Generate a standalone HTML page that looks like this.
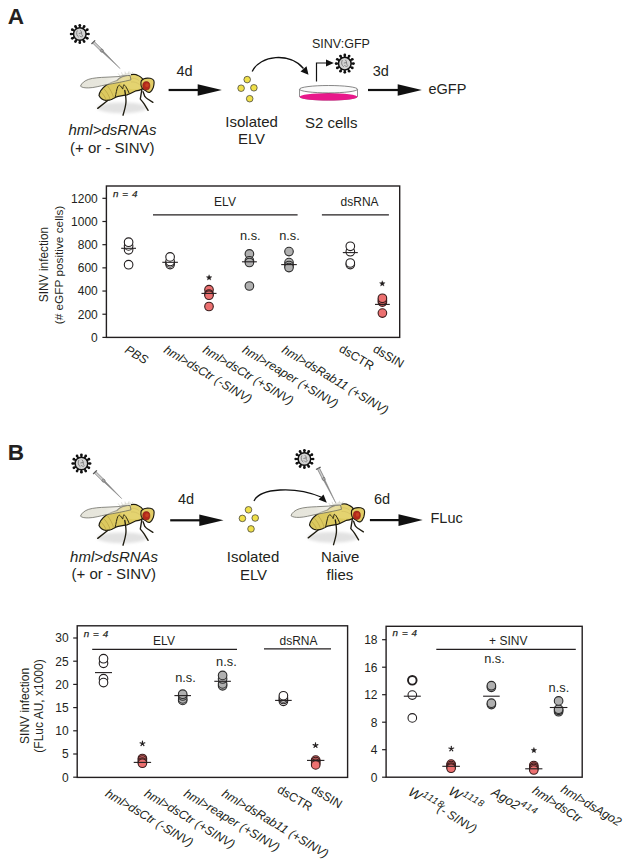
<!DOCTYPE html>
<html><head><meta charset="utf-8">
<style>
html,body{margin:0;padding:0;background:#fff;}
body{width:629px;height:866px;overflow:hidden;}
svg{display:block;font-family:"Liberation Sans",sans-serif;}
text{fill:#231f20;}
</style></head>
<body>
<svg width="629" height="866" viewBox="0 0 629 866">
<defs><linearGradient id="wingg" gradientUnits="userSpaceOnUse" x1="80" y1="0" x2="131" y2="0"><stop offset="0" stop-color="#e3e2d7" stop-opacity="0.92"/><stop offset="0.5" stop-color="#e3e2d7" stop-opacity="0.84"/><stop offset="0.78" stop-color="#ebe9dc" stop-opacity="0.55"/><stop offset="1" stop-color="#ebe9dc" stop-opacity="0.35"/></linearGradient><filter id="blur" x="-20%" y="-50%" width="140%" height="200%"><feGaussianBlur stdDeviation="1.5"/></filter></defs>
<rect width="629" height="866" fill="#fff"/>
<text x="7.7" y="24.3" font-size="22.6" text-anchor="start" font-weight="bold" >A</text>
<g transform="translate(79.8,34.0) scale(1.0)"><line x1="5.50" y1="0.00" x2="8.70" y2="0.00" stroke="#111" stroke-width="1.9"/><circle cx="8.70" cy="0.00" r="1.35" fill="#111"/><line x1="4.76" y1="2.75" x2="7.53" y2="4.35" stroke="#111" stroke-width="1.9"/><circle cx="7.53" cy="4.35" r="1.35" fill="#111"/><line x1="2.75" y1="4.76" x2="4.35" y2="7.53" stroke="#111" stroke-width="1.9"/><circle cx="4.35" cy="7.53" r="1.35" fill="#111"/><line x1="0.00" y1="5.50" x2="0.00" y2="8.70" stroke="#111" stroke-width="1.9"/><circle cx="0.00" cy="8.70" r="1.35" fill="#111"/><line x1="-2.75" y1="4.76" x2="-4.35" y2="7.53" stroke="#111" stroke-width="1.9"/><circle cx="-4.35" cy="7.53" r="1.35" fill="#111"/><line x1="-4.76" y1="2.75" x2="-7.53" y2="4.35" stroke="#111" stroke-width="1.9"/><circle cx="-7.53" cy="4.35" r="1.35" fill="#111"/><line x1="-5.50" y1="0.00" x2="-8.70" y2="0.00" stroke="#111" stroke-width="1.9"/><circle cx="-8.70" cy="0.00" r="1.35" fill="#111"/><line x1="-4.76" y1="-2.75" x2="-7.53" y2="-4.35" stroke="#111" stroke-width="1.9"/><circle cx="-7.53" cy="-4.35" r="1.35" fill="#111"/><line x1="-2.75" y1="-4.76" x2="-4.35" y2="-7.53" stroke="#111" stroke-width="1.9"/><circle cx="-4.35" cy="-7.53" r="1.35" fill="#111"/><line x1="-0.00" y1="-5.50" x2="-0.00" y2="-8.70" stroke="#111" stroke-width="1.9"/><circle cx="-0.00" cy="-8.70" r="1.35" fill="#111"/><line x1="2.75" y1="-4.76" x2="4.35" y2="-7.53" stroke="#111" stroke-width="1.9"/><circle cx="4.35" cy="-7.53" r="1.35" fill="#111"/><line x1="4.76" y1="-2.75" x2="7.53" y2="-4.35" stroke="#111" stroke-width="1.9"/><circle cx="7.53" cy="-4.35" r="1.35" fill="#111"/><circle r="6.3" fill="#d4d4d4" stroke="#111" stroke-width="1.5"/><path d="M-2.5,-3.5 C-3.8,-1 -3.2,2 -1,3.2 M0.5,-3.8 C2.8,-2 0.8,0.5 3,2 M-1,-0.5 L2.2,-1.2 M-0.5,1.5 C0.5,3 2,3 2.8,2.5" fill="none" stroke="#7a7a7a" stroke-width="0.9"/></g>
<g transform="translate(93.3,42.2) rotate(44.57)"><line x1="0" y1="-2.6" x2="0" y2="2.6" stroke="#555" stroke-width="1.3"/><rect x="0.5" y="-1.1" width="11" height="2.2" fill="#cfcfcf" stroke="#666" stroke-width="0.6"/><circle cx="12" cy="0" r="1.5" fill="#aaa" stroke="#666" stroke-width="0.6"/><path d="M13,-0.8 L37.62,0 L13,0.8 Z" fill="#888" stroke="#777" stroke-width="0.4"/></g>
<g transform="translate(0,0) scale(1.0)"><ellipse cx="122" cy="107.8" rx="25" ry="5.4" fill="#e2e2e2" filter="url(#blur)"/><path d="M107.7,100.5 L97.7,108.4" stroke="#1f1c10" stroke-width="1.35" fill="none" stroke-linecap="round"/><path d="M99,95.5 C99.5,92 102.5,88 106,85.3 C109.5,83 113.5,81.5 117,80.5 C120,77 124.5,75.5 129.1,75.4 C132,74.3 135.5,74.2 138,75.5 C141,76.8 143.2,79 144,81.5 C144.8,85 143.6,88 141.6,89.4 C139,90.6 137,90.8 135.5,91 C133,92.3 130,94 127,94.8 C123,95.5 119.5,96 117.2,96.6 C115.5,97.3 114,98.2 112,99.2 C110,100.1 108,100.5 106,100.4 C103,100.3 100.5,98.5 99,95.5 Z" fill="#dcc95f" stroke="#1f1c10" stroke-width="1.2"/><path d="M121,80 C124,76.5 129,75.6 133,75.3 C137,75.3 141,77.5 143,81 C143.8,84 142.8,87.3 140.5,88.6 C136,89.6 131,89.5 127,88 C123,86.5 120.5,83.5 121,80 Z" fill="#e6d674" opacity="0.8"/><path d="M130,78.5 C133,77.8 136.5,78.5 139,80.5 M131,82 C134,81.5 137,82.5 139.5,84.5" stroke="#d2be62" stroke-width="0.7" fill="none"/><path d="M101,92 C103.5,94.5 105.5,97.5 106.3,100.3 M103.8,88.6 C106.8,91.8 109,95.5 110.2,99.6 M107.5,86 C110.5,89.5 112.5,93.5 113.8,98.3" stroke="#bba646" stroke-width="0.8" fill="none"/><path d="M119.6,76.4 C123,74 127,72.6 131,72.6 L131,75.5 Z" fill="#e6e6e0" stroke="none"/><path d="M120,76 L118.2,73.5 M122.5,75 L121.5,72.3 M125.5,74.2 L125,71.6 M128.5,73.8 L129,71.3 M131.5,74 L132.8,71.8" stroke="#c8c8c0" stroke-width="0.6"/><path d="M80.5,86.2 C81.3,83.2 84.8,80.6 88.7,79.3 C93,77.9 100,77.4 106,77.2 L118,76.6 C123.5,75.7 127,75.4 130,75.5 L131,79.8 C124,81.6 115,83.3 106,84.8 C100,86 94,87.8 88.7,87.9 C85,88 82,87.6 80.5,86.2 Z" fill="url(#wingg)" stroke="#66665e" stroke-width="0.75"/><path d="M115.1,97.8 C116,93.5 116.8,89 117.7,86.8 C118.3,85.6 119,85.2 119.6,85.3 C120.8,86 121.9,87.6 122.7,89.1 C123.1,87.3 123.4,85.6 123.8,84.7 C124.5,85 125.1,85.6 125.7,86.4 C127,88.5 128.2,91 129.2,93.3" stroke="#2e2a12" stroke-width="1" fill="none"/><path d="M141.4,80.6 C143,78.6 147,77.8 150.2,78.3 C152.6,78.8 154.2,80.2 154.1,82.6 C154,85 153.6,86.5 153.4,87.2 C152.5,89.5 151.5,91.5 150,92.2 C148.5,92.8 147,92 145.7,90.7 C143,89.5 141.3,87.5 141,85 C140.8,83 140.9,81.5 141.4,80.6 Z" fill="#e3cd66" stroke="#1f1c10" stroke-width="1.15"/><ellipse cx="146.3" cy="85.8" rx="3.6" ry="4.2" fill="#b3281c" stroke="#6e150e" stroke-width="0.5"/><ellipse cx="147" cy="85.3" rx="1.7" ry="2" fill="#d24a22" opacity="0.7"/><path d="M124.8,90.5 C125.8,96 126.2,100 125.9,103 C125.5,107 124.3,111 123,115.2" stroke="#1f1c10" stroke-width="1.35" fill="none" stroke-linecap="round"/><path d="M141.9,89.3 L140.3,99.1 C142,101 143,102 144.3,104.1 L148.1,110.3" stroke="#1f1c10" stroke-width="1.35" fill="none" stroke-linecap="round" stroke-linejoin="round"/><path d="M143.1,91.7 L144.8,96.4 C146,98 147,98.6 148.1,99.3 L152.9,102.4" stroke="#1f1c10" stroke-width="1.35" fill="none" stroke-linecap="round" stroke-linejoin="round"/></g>
<line x1="168.6" y1="90" x2="199.7" y2="90" stroke="#111" stroke-width="2.2"/>
<path d="M197.7,84.2 L221.89999999999998,90 L197.7,95.8 Z" fill="#111"/>
<text x="176.5" y="76.4" font-size="14.5" text-anchor="start" >4d</text>
<circle cx="247.2" cy="79.6" r="3.3" fill="#f0e04a" stroke="#333" stroke-width="0.7"/>
<circle cx="241.1" cy="88.19999999999999" r="3.3" fill="#f0e04a" stroke="#333" stroke-width="0.7"/>
<circle cx="253.89999999999998" cy="87.8" r="3.3" fill="#f0e04a" stroke="#333" stroke-width="0.7"/>
<circle cx="249.7" cy="98.69999999999999" r="3.3" fill="#f0e04a" stroke="#333" stroke-width="0.7"/>
<path d="M252.2,71.5 C260,55 290,52 303.5,68.5" fill="none" stroke="#111" stroke-width="1.3"/>
<path d="M300.5,71.5 L308.5,74.8 L306.5,66.2 Z" fill="#111"/>
<text x="312" y="47.8" font-size="12.5" text-anchor="start" >SINV:GFP</text>
<path d="M316.5,81.5 L316.5,63 L327,63" fill="none" stroke="#111" stroke-width="1.2"/>
<path d="M326,59.6 L333.8,63 L326,66.4 Z" fill="#111"/>
<g transform="translate(344.8,63.6) scale(1.0)"><line x1="5.50" y1="0.00" x2="8.70" y2="0.00" stroke="#111" stroke-width="1.9"/><circle cx="8.70" cy="0.00" r="1.35" fill="#111"/><line x1="4.76" y1="2.75" x2="7.53" y2="4.35" stroke="#111" stroke-width="1.9"/><circle cx="7.53" cy="4.35" r="1.35" fill="#111"/><line x1="2.75" y1="4.76" x2="4.35" y2="7.53" stroke="#111" stroke-width="1.9"/><circle cx="4.35" cy="7.53" r="1.35" fill="#111"/><line x1="0.00" y1="5.50" x2="0.00" y2="8.70" stroke="#111" stroke-width="1.9"/><circle cx="0.00" cy="8.70" r="1.35" fill="#111"/><line x1="-2.75" y1="4.76" x2="-4.35" y2="7.53" stroke="#111" stroke-width="1.9"/><circle cx="-4.35" cy="7.53" r="1.35" fill="#111"/><line x1="-4.76" y1="2.75" x2="-7.53" y2="4.35" stroke="#111" stroke-width="1.9"/><circle cx="-7.53" cy="4.35" r="1.35" fill="#111"/><line x1="-5.50" y1="0.00" x2="-8.70" y2="0.00" stroke="#111" stroke-width="1.9"/><circle cx="-8.70" cy="0.00" r="1.35" fill="#111"/><line x1="-4.76" y1="-2.75" x2="-7.53" y2="-4.35" stroke="#111" stroke-width="1.9"/><circle cx="-7.53" cy="-4.35" r="1.35" fill="#111"/><line x1="-2.75" y1="-4.76" x2="-4.35" y2="-7.53" stroke="#111" stroke-width="1.9"/><circle cx="-4.35" cy="-7.53" r="1.35" fill="#111"/><line x1="-0.00" y1="-5.50" x2="-0.00" y2="-8.70" stroke="#111" stroke-width="1.9"/><circle cx="-0.00" cy="-8.70" r="1.35" fill="#111"/><line x1="2.75" y1="-4.76" x2="4.35" y2="-7.53" stroke="#111" stroke-width="1.9"/><circle cx="4.35" cy="-7.53" r="1.35" fill="#111"/><line x1="4.76" y1="-2.75" x2="7.53" y2="-4.35" stroke="#111" stroke-width="1.9"/><circle cx="7.53" cy="-4.35" r="1.35" fill="#111"/><circle r="6.3" fill="#d4d4d4" stroke="#111" stroke-width="1.5"/><path d="M-2.5,-3.5 C-3.8,-1 -3.2,2 -1,3.2 M0.5,-3.8 C2.8,-2 0.8,0.5 3,2 M-1,-0.5 L2.2,-1.2 M-0.5,1.5 C0.5,3 2,3 2.8,2.5" fill="none" stroke="#7a7a7a" stroke-width="0.9"/></g>
<path d="M299.5,89.2 L299.5,96.5 A29,3.6 0 0 0 357.5,96.5 L357.5,89.2" fill="#fff" stroke="#444" stroke-width="0.6"/>
<ellipse cx="328.5" cy="96.8" rx="29" ry="3.7" fill="#e8198b"/>
<ellipse cx="328.5" cy="89.2" rx="29" ry="3.7" fill="#fafafa" stroke="#555" stroke-width="0.7"/>
<line x1="368" y1="90" x2="399.7" y2="90" stroke="#111" stroke-width="2.2"/>
<path d="M397.7,84.2 L421.9,90 L397.7,95.8 Z" fill="#111"/>
<text x="372.7" y="76.2" font-size="14.5" text-anchor="start" >3d</text>
<text x="428.5" y="93.9" font-size="14.5" text-anchor="start" >eGFP</text>
<text x="112.5" y="134.5" font-size="15" text-anchor="middle" font-style="italic" >hml&gt;dsRNAs</text>
<text x="112.3" y="152.8" font-size="15" text-anchor="middle" >(+ or - SINV)</text>
<text x="251.6" y="126.7" font-size="15" text-anchor="middle" >Isolated</text>
<text x="251.5" y="143.8" font-size="15" text-anchor="middle" >ELV</text>
<text x="331.2" y="128" font-size="15" text-anchor="middle" >S2 cells</text>
<rect x="106.4" y="186" width="293.29999999999995" height="151.39999999999998" fill="none" stroke="#231f20" stroke-width="1.4"/>
<line x1="102.4" y1="337.4" x2="106.4" y2="337.4" stroke="#231f20" stroke-width="1.2"/>
<text x="97.80000000000001" y="341.7" font-size="12" text-anchor="end" >0</text>
<line x1="102.4" y1="314.21999999999997" x2="106.4" y2="314.21999999999997" stroke="#231f20" stroke-width="1.2"/>
<text x="97.80000000000001" y="318.52" font-size="12" text-anchor="end" >200</text>
<line x1="102.4" y1="291.03999999999996" x2="106.4" y2="291.03999999999996" stroke="#231f20" stroke-width="1.2"/>
<text x="97.80000000000001" y="295.34" font-size="12" text-anchor="end" >400</text>
<line x1="102.4" y1="267.86" x2="106.4" y2="267.86" stroke="#231f20" stroke-width="1.2"/>
<text x="97.80000000000001" y="272.16" font-size="12" text-anchor="end" >600</text>
<line x1="102.4" y1="244.67999999999998" x2="106.4" y2="244.67999999999998" stroke="#231f20" stroke-width="1.2"/>
<text x="97.80000000000001" y="248.98" font-size="12" text-anchor="end" >800</text>
<line x1="102.4" y1="221.49999999999997" x2="106.4" y2="221.49999999999997" stroke="#231f20" stroke-width="1.2"/>
<text x="97.80000000000001" y="225.79999999999998" font-size="12" text-anchor="end" >1000</text>
<line x1="102.4" y1="198.32" x2="106.4" y2="198.32" stroke="#231f20" stroke-width="1.2"/>
<text x="97.80000000000001" y="202.62" font-size="12" text-anchor="end" >1200</text>
<text transform="translate(47.8,264.5) rotate(-90)" font-size="11.9" text-anchor="middle">SINV infection</text>
<text transform="translate(62.5,265) rotate(-90)" font-size="11.8" text-anchor="middle">(# eGFP positive cells)</text>
<text x="112.9" y="197.4" font-size="9.8" text-anchor="start" font-style="italic" letter-spacing="0.6" stroke="#231f20" stroke-width="0.25">n = 4</text>
<text x="225" y="205.5" font-size="12" text-anchor="middle" >ELV</text>
<line x1="153" y1="214.9" x2="297.6" y2="214.9" stroke="#231f20" stroke-width="1.2"/>
<text x="359.6" y="205.5" font-size="12" text-anchor="middle" >dsRNA</text>
<line x1="321.9" y1="214.9" x2="388.9" y2="214.9" stroke="#231f20" stroke-width="1.2"/>
<circle cx="128.6" cy="264.7" r="4.3" fill="#ffffff" stroke="#231f20" stroke-width="1.1"/>
<circle cx="128.6" cy="249.8" r="4.3" fill="#ffffff" stroke="#231f20" stroke-width="1.1"/>
<circle cx="128.6" cy="245.9" r="4.3" fill="#ffffff" stroke="#231f20" stroke-width="1.1"/>
<circle cx="128.6" cy="242.2" r="4.3" fill="#ffffff" stroke="#231f20" stroke-width="1.1"/>
<line x1="121.19999999999999" y1="248.3" x2="136.0" y2="248.3" stroke="#231f20" stroke-width="1.1"/>
<circle cx="170.1" cy="264.6" r="4.3" fill="#ffffff" stroke="#231f20" stroke-width="1.1"/>
<circle cx="170.1" cy="262.9" r="4.3" fill="#ffffff" stroke="#231f20" stroke-width="1.1"/>
<circle cx="170.1" cy="261.5" r="4.3" fill="#ffffff" stroke="#231f20" stroke-width="1.1"/>
<circle cx="170.1" cy="256.9" r="4.3" fill="#ffffff" stroke="#231f20" stroke-width="1.1"/>
<line x1="162.29999999999998" y1="262.3" x2="177.9" y2="262.3" stroke="#231f20" stroke-width="1.1"/>
<circle cx="209.0" cy="306.5" r="4.3" fill="#ec7070" stroke="#3a1c1c" stroke-width="1.1"/>
<circle cx="209.0" cy="289.7" r="4.3" fill="#ec7070" stroke="#3a1c1c" stroke-width="1.1"/>
<circle cx="209.0" cy="294.0" r="4.3" fill="#ec7070" stroke="#3a1c1c" stroke-width="1.1"/>
<circle cx="209.0" cy="295.2" r="4.3" fill="#ec7070" stroke="#3a1c1c" stroke-width="1.1"/>
<line x1="201.5" y1="293.4" x2="216.5" y2="293.4" stroke="#231f20" stroke-width="1.1"/>
<polygon points="209.10,274.65 209.86,276.60 211.95,276.72 210.34,278.05 210.86,280.08 209.10,278.95 207.34,280.08 207.86,278.05 206.25,276.72 208.34,276.60" fill="#231f20" stroke="#231f20" stroke-width="0.3" stroke-linejoin="round"/>
<circle cx="249.4" cy="286.0" r="4.3" fill="#b0b0b0" stroke="#2b2b2b" stroke-width="1.1"/>
<circle cx="249.4" cy="253.9" r="4.3" fill="#b0b0b0" stroke="#2b2b2b" stroke-width="1.1"/>
<circle cx="249.4" cy="260.8" r="4.3" fill="#b0b0b0" stroke="#2b2b2b" stroke-width="1.1"/>
<circle cx="249.4" cy="262.5" r="4.3" fill="#b0b0b0" stroke="#2b2b2b" stroke-width="1.1"/>
<line x1="241.95000000000002" y1="261.8" x2="256.85" y2="261.8" stroke="#231f20" stroke-width="1.1"/>
<text x="250.3" y="240.0" font-size="12.8" text-anchor="middle" >n.s.</text>
<circle cx="289.0" cy="251.6" r="4.3" fill="#b0b0b0" stroke="#2b2b2b" stroke-width="1.1"/>
<circle cx="289.0" cy="262.6" r="4.3" fill="#b0b0b0" stroke="#2b2b2b" stroke-width="1.1"/>
<circle cx="289.0" cy="265.5" r="4.3" fill="#b0b0b0" stroke="#2b2b2b" stroke-width="1.1"/>
<circle cx="289.0" cy="267.6" r="4.3" fill="#b0b0b0" stroke="#2b2b2b" stroke-width="1.1"/>
<line x1="281.2" y1="264.6" x2="296.8" y2="264.6" stroke="#231f20" stroke-width="1.1"/>
<text x="289.5" y="240.0" font-size="12.8" text-anchor="middle" >n.s.</text>
<circle cx="350.3" cy="264.6" r="4.3" fill="#ffffff" stroke="#231f20" stroke-width="1.1"/>
<circle cx="350.3" cy="263.0" r="4.3" fill="#ffffff" stroke="#231f20" stroke-width="1.1"/>
<circle cx="350.3" cy="251.7" r="4.3" fill="#ffffff" stroke="#231f20" stroke-width="1.1"/>
<circle cx="350.3" cy="246.3" r="4.3" fill="#ffffff" stroke="#231f20" stroke-width="1.1"/>
<line x1="342.8" y1="252.6" x2="357.8" y2="252.6" stroke="#231f20" stroke-width="1.1"/>
<circle cx="382.4" cy="313.1" r="4.3" fill="#ec7070" stroke="#3a1c1c" stroke-width="1.1"/>
<circle cx="382.4" cy="302.1" r="4.3" fill="#ec7070" stroke="#3a1c1c" stroke-width="1.1"/>
<circle cx="382.4" cy="300.3" r="4.3" fill="#ec7070" stroke="#3a1c1c" stroke-width="1.1"/>
<circle cx="382.4" cy="298.3" r="4.3" fill="#ec7070" stroke="#3a1c1c" stroke-width="1.1"/>
<line x1="375.0" y1="304.4" x2="389.79999999999995" y2="304.4" stroke="#231f20" stroke-width="1.1"/>
<polygon points="382.30,280.65 383.06,282.60 385.15,282.72 383.54,284.05 384.06,286.08 382.30,284.95 380.54,286.08 381.06,284.05 379.45,282.72 381.54,282.60" fill="#231f20" stroke="#231f20" stroke-width="0.3" stroke-linejoin="round"/>
<text transform="translate(124,352) rotate(31)" font-size="12.2" font-style="italic">PBS</text>
<text transform="translate(163,352) rotate(31)" font-size="12.2" font-style="italic">hml&gt;dsCtr (-SINV)</text>
<text transform="translate(202,352) rotate(31)" font-size="12.2" font-style="italic">hml&gt;dsCtr (+SINV)</text>
<text transform="translate(241.5,352) rotate(31)" font-size="12.2" font-style="italic">hml&gt;reaper (+SINV)</text>
<text transform="translate(281,352) rotate(31)" font-size="12.2" font-style="italic">hml&gt;dsRab11 (+SINV)</text>
<text transform="translate(338.2,350.9) rotate(31)" font-size="12.2">dsCTR</text>
<text transform="translate(372.3,351.3) rotate(31)" font-size="12.2">dsSIN</text>
<text x="7.8" y="459.6" font-size="22.6" text-anchor="start" font-weight="bold" >B</text>
<g transform="translate(81.4,463.5) scale(1.0)"><line x1="5.50" y1="0.00" x2="8.70" y2="0.00" stroke="#111" stroke-width="1.9"/><circle cx="8.70" cy="0.00" r="1.35" fill="#111"/><line x1="4.76" y1="2.75" x2="7.53" y2="4.35" stroke="#111" stroke-width="1.9"/><circle cx="7.53" cy="4.35" r="1.35" fill="#111"/><line x1="2.75" y1="4.76" x2="4.35" y2="7.53" stroke="#111" stroke-width="1.9"/><circle cx="4.35" cy="7.53" r="1.35" fill="#111"/><line x1="0.00" y1="5.50" x2="0.00" y2="8.70" stroke="#111" stroke-width="1.9"/><circle cx="0.00" cy="8.70" r="1.35" fill="#111"/><line x1="-2.75" y1="4.76" x2="-4.35" y2="7.53" stroke="#111" stroke-width="1.9"/><circle cx="-4.35" cy="7.53" r="1.35" fill="#111"/><line x1="-4.76" y1="2.75" x2="-7.53" y2="4.35" stroke="#111" stroke-width="1.9"/><circle cx="-7.53" cy="4.35" r="1.35" fill="#111"/><line x1="-5.50" y1="0.00" x2="-8.70" y2="0.00" stroke="#111" stroke-width="1.9"/><circle cx="-8.70" cy="0.00" r="1.35" fill="#111"/><line x1="-4.76" y1="-2.75" x2="-7.53" y2="-4.35" stroke="#111" stroke-width="1.9"/><circle cx="-7.53" cy="-4.35" r="1.35" fill="#111"/><line x1="-2.75" y1="-4.76" x2="-4.35" y2="-7.53" stroke="#111" stroke-width="1.9"/><circle cx="-4.35" cy="-7.53" r="1.35" fill="#111"/><line x1="-0.00" y1="-5.50" x2="-0.00" y2="-8.70" stroke="#111" stroke-width="1.9"/><circle cx="-0.00" cy="-8.70" r="1.35" fill="#111"/><line x1="2.75" y1="-4.76" x2="4.35" y2="-7.53" stroke="#111" stroke-width="1.9"/><circle cx="4.35" cy="-7.53" r="1.35" fill="#111"/><line x1="4.76" y1="-2.75" x2="7.53" y2="-4.35" stroke="#111" stroke-width="1.9"/><circle cx="7.53" cy="-4.35" r="1.35" fill="#111"/><circle r="6.3" fill="#d4d4d4" stroke="#111" stroke-width="1.5"/><path d="M-2.5,-3.5 C-3.8,-1 -3.2,2 -1,3.2 M0.5,-3.8 C2.8,-2 0.8,0.5 3,2 M-1,-0.5 L2.2,-1.2 M-0.5,1.5 C0.5,3 2,3 2.8,2.5" fill="none" stroke="#7a7a7a" stroke-width="0.9"/></g>
<g transform="translate(95,472.2) rotate(44.68)"><line x1="0" y1="-2.6" x2="0" y2="2.6" stroke="#555" stroke-width="1.3"/><rect x="0.5" y="-1.1" width="11" height="2.2" fill="#cfcfcf" stroke="#666" stroke-width="0.6"/><circle cx="12" cy="0" r="1.5" fill="#aaa" stroke="#666" stroke-width="0.6"/><path d="M13,-0.8 L37.55,0 L13,0.8 Z" fill="#888" stroke="#777" stroke-width="0.4"/></g>
<g transform="translate(0,430) scale(1.0)"><ellipse cx="122" cy="107.8" rx="25" ry="5.4" fill="#e2e2e2" filter="url(#blur)"/><path d="M107.7,100.5 L97.7,108.4" stroke="#1f1c10" stroke-width="1.35" fill="none" stroke-linecap="round"/><path d="M99,95.5 C99.5,92 102.5,88 106,85.3 C109.5,83 113.5,81.5 117,80.5 C120,77 124.5,75.5 129.1,75.4 C132,74.3 135.5,74.2 138,75.5 C141,76.8 143.2,79 144,81.5 C144.8,85 143.6,88 141.6,89.4 C139,90.6 137,90.8 135.5,91 C133,92.3 130,94 127,94.8 C123,95.5 119.5,96 117.2,96.6 C115.5,97.3 114,98.2 112,99.2 C110,100.1 108,100.5 106,100.4 C103,100.3 100.5,98.5 99,95.5 Z" fill="#dcc95f" stroke="#1f1c10" stroke-width="1.2"/><path d="M121,80 C124,76.5 129,75.6 133,75.3 C137,75.3 141,77.5 143,81 C143.8,84 142.8,87.3 140.5,88.6 C136,89.6 131,89.5 127,88 C123,86.5 120.5,83.5 121,80 Z" fill="#e6d674" opacity="0.8"/><path d="M130,78.5 C133,77.8 136.5,78.5 139,80.5 M131,82 C134,81.5 137,82.5 139.5,84.5" stroke="#d2be62" stroke-width="0.7" fill="none"/><path d="M101,92 C103.5,94.5 105.5,97.5 106.3,100.3 M103.8,88.6 C106.8,91.8 109,95.5 110.2,99.6 M107.5,86 C110.5,89.5 112.5,93.5 113.8,98.3" stroke="#bba646" stroke-width="0.8" fill="none"/><path d="M119.6,76.4 C123,74 127,72.6 131,72.6 L131,75.5 Z" fill="#e6e6e0" stroke="none"/><path d="M120,76 L118.2,73.5 M122.5,75 L121.5,72.3 M125.5,74.2 L125,71.6 M128.5,73.8 L129,71.3 M131.5,74 L132.8,71.8" stroke="#c8c8c0" stroke-width="0.6"/><path d="M80.5,86.2 C81.3,83.2 84.8,80.6 88.7,79.3 C93,77.9 100,77.4 106,77.2 L118,76.6 C123.5,75.7 127,75.4 130,75.5 L131,79.8 C124,81.6 115,83.3 106,84.8 C100,86 94,87.8 88.7,87.9 C85,88 82,87.6 80.5,86.2 Z" fill="url(#wingg)" stroke="#66665e" stroke-width="0.75"/><path d="M115.1,97.8 C116,93.5 116.8,89 117.7,86.8 C118.3,85.6 119,85.2 119.6,85.3 C120.8,86 121.9,87.6 122.7,89.1 C123.1,87.3 123.4,85.6 123.8,84.7 C124.5,85 125.1,85.6 125.7,86.4 C127,88.5 128.2,91 129.2,93.3" stroke="#2e2a12" stroke-width="1" fill="none"/><path d="M141.4,80.6 C143,78.6 147,77.8 150.2,78.3 C152.6,78.8 154.2,80.2 154.1,82.6 C154,85 153.6,86.5 153.4,87.2 C152.5,89.5 151.5,91.5 150,92.2 C148.5,92.8 147,92 145.7,90.7 C143,89.5 141.3,87.5 141,85 C140.8,83 140.9,81.5 141.4,80.6 Z" fill="#e3cd66" stroke="#1f1c10" stroke-width="1.15"/><ellipse cx="146.3" cy="85.8" rx="3.6" ry="4.2" fill="#b3281c" stroke="#6e150e" stroke-width="0.5"/><ellipse cx="147" cy="85.3" rx="1.7" ry="2" fill="#d24a22" opacity="0.7"/><path d="M124.8,90.5 C125.8,96 126.2,100 125.9,103 C125.5,107 124.3,111 123,115.2" stroke="#1f1c10" stroke-width="1.35" fill="none" stroke-linecap="round"/><path d="M141.9,89.3 L140.3,99.1 C142,101 143,102 144.3,104.1 L148.1,110.3" stroke="#1f1c10" stroke-width="1.35" fill="none" stroke-linecap="round" stroke-linejoin="round"/><path d="M143.1,91.7 L144.8,96.4 C146,98 147,98.6 148.1,99.3 L152.9,102.4" stroke="#1f1c10" stroke-width="1.35" fill="none" stroke-linecap="round" stroke-linejoin="round"/></g>
<line x1="170.2" y1="520.3" x2="201.3" y2="520.3" stroke="#111" stroke-width="2.2"/>
<path d="M199.3,514.5 L223.5,520.3 L199.3,526.0999999999999 Z" fill="#111"/>
<text x="178" y="503.8" font-size="14.5" text-anchor="start" >4d</text>
<circle cx="248.5" cy="509.8" r="3.3" fill="#f0e04a" stroke="#333" stroke-width="0.7"/>
<circle cx="242.4" cy="518.4" r="3.3" fill="#f0e04a" stroke="#333" stroke-width="0.7"/>
<circle cx="255.2" cy="518.0" r="3.3" fill="#f0e04a" stroke="#333" stroke-width="0.7"/>
<circle cx="251.0" cy="528.9" r="3.3" fill="#f0e04a" stroke="#333" stroke-width="0.7"/>
<path d="M254,500.9 C260,488 295,486 321,497" fill="none" stroke="#111" stroke-width="1.3"/>
<path d="M318.5,499.5 L326.8,502.8 L323.5,494.5 Z" fill="#111"/>
<g transform="translate(304.4,459.0) scale(1.0)"><line x1="5.50" y1="0.00" x2="8.70" y2="0.00" stroke="#111" stroke-width="1.9"/><circle cx="8.70" cy="0.00" r="1.35" fill="#111"/><line x1="4.76" y1="2.75" x2="7.53" y2="4.35" stroke="#111" stroke-width="1.9"/><circle cx="7.53" cy="4.35" r="1.35" fill="#111"/><line x1="2.75" y1="4.76" x2="4.35" y2="7.53" stroke="#111" stroke-width="1.9"/><circle cx="4.35" cy="7.53" r="1.35" fill="#111"/><line x1="0.00" y1="5.50" x2="0.00" y2="8.70" stroke="#111" stroke-width="1.9"/><circle cx="0.00" cy="8.70" r="1.35" fill="#111"/><line x1="-2.75" y1="4.76" x2="-4.35" y2="7.53" stroke="#111" stroke-width="1.9"/><circle cx="-4.35" cy="7.53" r="1.35" fill="#111"/><line x1="-4.76" y1="2.75" x2="-7.53" y2="4.35" stroke="#111" stroke-width="1.9"/><circle cx="-7.53" cy="4.35" r="1.35" fill="#111"/><line x1="-5.50" y1="0.00" x2="-8.70" y2="0.00" stroke="#111" stroke-width="1.9"/><circle cx="-8.70" cy="0.00" r="1.35" fill="#111"/><line x1="-4.76" y1="-2.75" x2="-7.53" y2="-4.35" stroke="#111" stroke-width="1.9"/><circle cx="-7.53" cy="-4.35" r="1.35" fill="#111"/><line x1="-2.75" y1="-4.76" x2="-4.35" y2="-7.53" stroke="#111" stroke-width="1.9"/><circle cx="-4.35" cy="-7.53" r="1.35" fill="#111"/><line x1="-0.00" y1="-5.50" x2="-0.00" y2="-8.70" stroke="#111" stroke-width="1.9"/><circle cx="-0.00" cy="-8.70" r="1.35" fill="#111"/><line x1="2.75" y1="-4.76" x2="4.35" y2="-7.53" stroke="#111" stroke-width="1.9"/><circle cx="4.35" cy="-7.53" r="1.35" fill="#111"/><line x1="4.76" y1="-2.75" x2="7.53" y2="-4.35" stroke="#111" stroke-width="1.9"/><circle cx="7.53" cy="-4.35" r="1.35" fill="#111"/><circle r="6.3" fill="#d4d4d4" stroke="#111" stroke-width="1.5"/><path d="M-2.5,-3.5 C-3.8,-1 -3.2,2 -1,3.2 M0.5,-3.8 C2.8,-2 0.8,0.5 3,2 M-1,-0.5 L2.2,-1.2 M-0.5,1.5 C0.5,3 2,3 2.8,2.5" fill="none" stroke="#7a7a7a" stroke-width="0.9"/></g>
<g transform="translate(318.3,468.3) rotate(63.24)"><line x1="0" y1="-2.6" x2="0" y2="2.6" stroke="#555" stroke-width="1.3"/><rect x="0.5" y="-1.1" width="11" height="2.2" fill="#cfcfcf" stroke="#666" stroke-width="0.6"/><circle cx="12" cy="0" r="1.5" fill="#aaa" stroke="#666" stroke-width="0.6"/><path d="M13,-0.8 L39.09,0 L13,0.8 Z" fill="#888" stroke="#777" stroke-width="0.4"/></g>
<g transform="translate(210.5,429.5) scale(1.0)"><ellipse cx="122" cy="107.8" rx="25" ry="5.4" fill="#e2e2e2" filter="url(#blur)"/><path d="M107.7,100.5 L97.7,108.4" stroke="#1f1c10" stroke-width="1.35" fill="none" stroke-linecap="round"/><path d="M99,95.5 C99.5,92 102.5,88 106,85.3 C109.5,83 113.5,81.5 117,80.5 C120,77 124.5,75.5 129.1,75.4 C132,74.3 135.5,74.2 138,75.5 C141,76.8 143.2,79 144,81.5 C144.8,85 143.6,88 141.6,89.4 C139,90.6 137,90.8 135.5,91 C133,92.3 130,94 127,94.8 C123,95.5 119.5,96 117.2,96.6 C115.5,97.3 114,98.2 112,99.2 C110,100.1 108,100.5 106,100.4 C103,100.3 100.5,98.5 99,95.5 Z" fill="#dcc95f" stroke="#1f1c10" stroke-width="1.2"/><path d="M121,80 C124,76.5 129,75.6 133,75.3 C137,75.3 141,77.5 143,81 C143.8,84 142.8,87.3 140.5,88.6 C136,89.6 131,89.5 127,88 C123,86.5 120.5,83.5 121,80 Z" fill="#e6d674" opacity="0.8"/><path d="M130,78.5 C133,77.8 136.5,78.5 139,80.5 M131,82 C134,81.5 137,82.5 139.5,84.5" stroke="#d2be62" stroke-width="0.7" fill="none"/><path d="M101,92 C103.5,94.5 105.5,97.5 106.3,100.3 M103.8,88.6 C106.8,91.8 109,95.5 110.2,99.6 M107.5,86 C110.5,89.5 112.5,93.5 113.8,98.3" stroke="#bba646" stroke-width="0.8" fill="none"/><path d="M119.6,76.4 C123,74 127,72.6 131,72.6 L131,75.5 Z" fill="#e6e6e0" stroke="none"/><path d="M120,76 L118.2,73.5 M122.5,75 L121.5,72.3 M125.5,74.2 L125,71.6 M128.5,73.8 L129,71.3 M131.5,74 L132.8,71.8" stroke="#c8c8c0" stroke-width="0.6"/><path d="M80.5,86.2 C81.3,83.2 84.8,80.6 88.7,79.3 C93,77.9 100,77.4 106,77.2 L118,76.6 C123.5,75.7 127,75.4 130,75.5 L131,79.8 C124,81.6 115,83.3 106,84.8 C100,86 94,87.8 88.7,87.9 C85,88 82,87.6 80.5,86.2 Z" fill="url(#wingg)" stroke="#66665e" stroke-width="0.75"/><path d="M115.1,97.8 C116,93.5 116.8,89 117.7,86.8 C118.3,85.6 119,85.2 119.6,85.3 C120.8,86 121.9,87.6 122.7,89.1 C123.1,87.3 123.4,85.6 123.8,84.7 C124.5,85 125.1,85.6 125.7,86.4 C127,88.5 128.2,91 129.2,93.3" stroke="#2e2a12" stroke-width="1" fill="none"/><path d="M141.4,80.6 C143,78.6 147,77.8 150.2,78.3 C152.6,78.8 154.2,80.2 154.1,82.6 C154,85 153.6,86.5 153.4,87.2 C152.5,89.5 151.5,91.5 150,92.2 C148.5,92.8 147,92 145.7,90.7 C143,89.5 141.3,87.5 141,85 C140.8,83 140.9,81.5 141.4,80.6 Z" fill="#e3cd66" stroke="#1f1c10" stroke-width="1.15"/><ellipse cx="146.3" cy="85.8" rx="3.6" ry="4.2" fill="#b3281c" stroke="#6e150e" stroke-width="0.5"/><ellipse cx="147" cy="85.3" rx="1.7" ry="2" fill="#d24a22" opacity="0.7"/><path d="M124.8,90.5 C125.8,96 126.2,100 125.9,103 C125.5,107 124.3,111 123,115.2" stroke="#1f1c10" stroke-width="1.35" fill="none" stroke-linecap="round"/><path d="M141.9,89.3 L140.3,99.1 C142,101 143,102 144.3,104.1 L148.1,110.3" stroke="#1f1c10" stroke-width="1.35" fill="none" stroke-linecap="round" stroke-linejoin="round"/><path d="M143.1,91.7 L144.8,96.4 C146,98 147,98.6 148.1,99.3 L152.9,102.4" stroke="#1f1c10" stroke-width="1.35" fill="none" stroke-linecap="round" stroke-linejoin="round"/></g>
<line x1="369.9" y1="520.1" x2="400.5" y2="520.1" stroke="#111" stroke-width="2.2"/>
<path d="M398.5,514.3000000000001 L422.7,520.1 L398.5,525.9 Z" fill="#111"/>
<text x="374" y="503.5" font-size="14.5" text-anchor="start" >6d</text>
<text x="430.5" y="523.3" font-size="14.5" text-anchor="start" >FLuc</text>
<text x="114.1" y="561.5" font-size="15" text-anchor="middle" font-style="italic" >hml&gt;dsRNAs</text>
<text x="113.8" y="579.4" font-size="15" text-anchor="middle" >(+ or - SINV)</text>
<text x="253" y="562.4" font-size="15" text-anchor="middle" >Isolated</text>
<text x="253.5" y="580.2" font-size="15" text-anchor="middle" >ELV</text>
<text x="340.3" y="562.4" font-size="15" text-anchor="middle" >Naive</text>
<text x="339.9" y="580.2" font-size="15" text-anchor="middle" >flies</text>
<rect x="77.2" y="625.8" width="270.40000000000003" height="151.60000000000002" fill="none" stroke="#231f20" stroke-width="1.4"/>
<line x1="73.2" y1="777.2" x2="77.2" y2="777.2" stroke="#231f20" stroke-width="1.2"/>
<text x="68.60000000000001" y="781.5" font-size="12" text-anchor="end" >0</text>
<line x1="73.2" y1="754.0" x2="77.2" y2="754.0" stroke="#231f20" stroke-width="1.2"/>
<text x="68.60000000000001" y="758.3" font-size="12" text-anchor="end" >5</text>
<line x1="73.2" y1="730.8000000000001" x2="77.2" y2="730.8000000000001" stroke="#231f20" stroke-width="1.2"/>
<text x="68.60000000000001" y="735.1" font-size="12" text-anchor="end" >10</text>
<line x1="73.2" y1="707.6" x2="77.2" y2="707.6" stroke="#231f20" stroke-width="1.2"/>
<text x="68.60000000000001" y="711.9" font-size="12" text-anchor="end" >15</text>
<line x1="73.2" y1="684.4000000000001" x2="77.2" y2="684.4000000000001" stroke="#231f20" stroke-width="1.2"/>
<text x="68.60000000000001" y="688.7" font-size="12" text-anchor="end" >20</text>
<line x1="73.2" y1="661.2" x2="77.2" y2="661.2" stroke="#231f20" stroke-width="1.2"/>
<text x="68.60000000000001" y="665.5" font-size="12" text-anchor="end" >25</text>
<line x1="73.2" y1="638.0" x2="77.2" y2="638.0" stroke="#231f20" stroke-width="1.2"/>
<text x="68.60000000000001" y="642.3" font-size="12" text-anchor="end" >30</text>
<text transform="translate(28.5,705.9) rotate(-90)" font-size="12" text-anchor="middle">SINV infection</text>
<text transform="translate(43.4,706) rotate(-90)" font-size="12" text-anchor="middle">(FLuc AU, x1000)</text>
<text x="83.7" y="636.5" font-size="9.8" text-anchor="start" font-style="italic" letter-spacing="0.6" stroke="#231f20" stroke-width="0.25">n = 4</text>
<text x="164" y="645.4" font-size="12" text-anchor="middle" >ELV</text>
<line x1="92.2" y1="649.3" x2="237" y2="649.3" stroke="#231f20" stroke-width="1.2"/>
<text x="298.5" y="645.2" font-size="12" text-anchor="middle" >dsRNA</text>
<line x1="264" y1="648.8" x2="331" y2="648.8" stroke="#231f20" stroke-width="1.2"/>
<circle cx="103.5" cy="678.7" r="4.3" fill="#ffffff" stroke="#231f20" stroke-width="1.1"/>
<circle cx="103.5" cy="682.6" r="4.3" fill="#ffffff" stroke="#231f20" stroke-width="1.1"/>
<circle cx="103.5" cy="663.3" r="4.3" fill="#ffffff" stroke="#231f20" stroke-width="1.1"/>
<circle cx="103.5" cy="658.7" r="4.3" fill="#ffffff" stroke="#231f20" stroke-width="1.1"/>
<line x1="95.0" y1="672.6" x2="112.0" y2="672.6" stroke="#231f20" stroke-width="1.1"/>
<circle cx="142.4" cy="758.5" r="4.3" fill="#ec7070" stroke="#3a1c1c" stroke-width="1.1"/>
<circle cx="142.4" cy="760" r="4.3" fill="#ec7070" stroke="#3a1c1c" stroke-width="1.1"/>
<circle cx="142.4" cy="762" r="4.3" fill="#ec7070" stroke="#3a1c1c" stroke-width="1.1"/>
<circle cx="142.4" cy="763.2" r="4.3" fill="#ec7070" stroke="#3a1c1c" stroke-width="1.1"/>
<line x1="133.70000000000002" y1="762.4" x2="151.1" y2="762.4" stroke="#231f20" stroke-width="1.1"/>
<path d="M142.45,743.60 L142.45,741.05 M142.45,743.60 L144.88,742.81 M142.45,743.60 L143.95,745.66 M142.45,743.60 L140.95,745.66 M142.45,743.60 L140.02,742.81" stroke="#231f20" stroke-width="1.15" stroke-linecap="round" fill="none"/>
<circle cx="182.7" cy="700.4" r="4.3" fill="#b0b0b0" stroke="#2b2b2b" stroke-width="1.1"/>
<circle cx="182.7" cy="698.9" r="4.3" fill="#b0b0b0" stroke="#2b2b2b" stroke-width="1.1"/>
<circle cx="182.7" cy="696.0" r="4.3" fill="#b0b0b0" stroke="#2b2b2b" stroke-width="1.1"/>
<circle cx="182.7" cy="694.2" r="4.3" fill="#b0b0b0" stroke="#2b2b2b" stroke-width="1.1"/>
<line x1="174.39999999999998" y1="695.6" x2="191.0" y2="695.6" stroke="#231f20" stroke-width="1.1"/>
<text x="185.5" y="681.7" font-size="12.8" text-anchor="middle" >n.s.</text>
<circle cx="222.6" cy="685.8" r="4.3" fill="#b0b0b0" stroke="#2b2b2b" stroke-width="1.1"/>
<circle cx="222.6" cy="683.9" r="4.3" fill="#b0b0b0" stroke="#2b2b2b" stroke-width="1.1"/>
<circle cx="222.6" cy="679.0" r="4.3" fill="#b0b0b0" stroke="#2b2b2b" stroke-width="1.1"/>
<circle cx="222.6" cy="675.4" r="4.3" fill="#b0b0b0" stroke="#2b2b2b" stroke-width="1.1"/>
<line x1="214.29999999999998" y1="681.3" x2="230.9" y2="681.3" stroke="#231f20" stroke-width="1.1"/>
<text x="226.4" y="666.0" font-size="12.8" text-anchor="middle" >n.s.</text>
<circle cx="283.4" cy="701.3" r="4.3" fill="#ffffff" stroke="#231f20" stroke-width="1.1"/>
<circle cx="283.4" cy="699.5" r="4.3" fill="#ffffff" stroke="#231f20" stroke-width="1.1"/>
<circle cx="283.4" cy="698" r="4.3" fill="#ffffff" stroke="#231f20" stroke-width="1.1"/>
<circle cx="283.4" cy="695.8" r="4.3" fill="#ffffff" stroke="#231f20" stroke-width="1.1"/>
<line x1="275.09999999999997" y1="700.4" x2="291.7" y2="700.4" stroke="#231f20" stroke-width="1.1"/>
<circle cx="315.7" cy="760.1" r="4.3" fill="#ec7070" stroke="#3a1c1c" stroke-width="1.1"/>
<circle cx="315.7" cy="761.5" r="4.3" fill="#ec7070" stroke="#3a1c1c" stroke-width="1.1"/>
<circle cx="315.7" cy="763.3" r="4.3" fill="#ec7070" stroke="#3a1c1c" stroke-width="1.1"/>
<circle cx="315.7" cy="764.9" r="4.3" fill="#ec7070" stroke="#3a1c1c" stroke-width="1.1"/>
<line x1="307.0" y1="760.4" x2="324.4" y2="760.4" stroke="#231f20" stroke-width="1.1"/>
<path d="M315.50,745.40 L315.50,742.85 M315.50,745.40 L317.93,744.61 M315.50,745.40 L317.00,747.46 M315.50,745.40 L314.00,747.46 M315.50,745.40 L313.07,744.61" stroke="#231f20" stroke-width="1.15" stroke-linecap="round" fill="none"/>
<text transform="translate(104.4,795.7) rotate(31)" font-size="12.2" font-style="italic">hml&gt;dsCtr (-SINV)</text>
<text transform="translate(143.5,795.7) rotate(31)" font-size="12.2" font-style="italic">hml&gt;dsCtr (+SINV)</text>
<text transform="translate(183,795.7) rotate(31)" font-size="12.2" font-style="italic">hml&gt;reaper (+SINV)</text>
<text transform="translate(221,795.7) rotate(31)" font-size="12.2" font-style="italic">hml&gt;dsRab11 (+SINV)</text>
<text transform="translate(276.5,791.8) rotate(31)" font-size="12.2">dsCTR</text>
<text transform="translate(310.5,791.6) rotate(31)" font-size="12.2">dsSIN</text>
<rect x="386.1" y="626.3" width="196.10000000000002" height="150.9000000000001" fill="none" stroke="#231f20" stroke-width="1.4"/>
<line x1="382.1" y1="777.2" x2="386.1" y2="777.2" stroke="#231f20" stroke-width="1.2"/>
<text x="377.5" y="781.5" font-size="12" text-anchor="end" >0</text>
<line x1="382.1" y1="749.7" x2="386.1" y2="749.7" stroke="#231f20" stroke-width="1.2"/>
<text x="377.5" y="754.0" font-size="12" text-anchor="end" >4</text>
<line x1="382.1" y1="722.2" x2="386.1" y2="722.2" stroke="#231f20" stroke-width="1.2"/>
<text x="377.5" y="726.5" font-size="12" text-anchor="end" >8</text>
<line x1="382.1" y1="694.7" x2="386.1" y2="694.7" stroke="#231f20" stroke-width="1.2"/>
<text x="377.5" y="699.0" font-size="12" text-anchor="end" >12</text>
<line x1="382.1" y1="667.2" x2="386.1" y2="667.2" stroke="#231f20" stroke-width="1.2"/>
<text x="377.5" y="671.5" font-size="12" text-anchor="end" >16</text>
<line x1="382.1" y1="639.7" x2="386.1" y2="639.7" stroke="#231f20" stroke-width="1.2"/>
<text x="377.5" y="644.0" font-size="12" text-anchor="end" >18</text>
<text x="392.6" y="636.0" font-size="9.8" text-anchor="start" font-style="italic" letter-spacing="0.6" stroke="#231f20" stroke-width="0.25">n = 4</text>
<text x="508.3" y="645" font-size="12" text-anchor="middle" >+ SINV</text>
<line x1="436.3" y1="649.3" x2="575.8" y2="649.3" stroke="#231f20" stroke-width="1.2"/>
<circle cx="412.3" cy="717.9" r="4.3" fill="#ffffff" stroke="#231f20" stroke-width="1.1"/>
<circle cx="412.3" cy="695.1" r="4.3" fill="#ffffff" stroke="#231f20" stroke-width="1.1"/>
<line x1="403.8" y1="696.2" x2="420.8" y2="696.2" stroke="#231f20" stroke-width="1.1"/>
<circle cx="412.3" cy="680.3" r="4.3" fill="#fff" stroke="#231f20" stroke-width="1.9"/>
<circle cx="451.1" cy="764.1" r="4.3" fill="#ec7070" stroke="#3a1c1c" stroke-width="1.1"/>
<circle cx="451.1" cy="765.5" r="4.3" fill="#ec7070" stroke="#3a1c1c" stroke-width="1.1"/>
<circle cx="451.1" cy="767" r="4.3" fill="#ec7070" stroke="#3a1c1c" stroke-width="1.1"/>
<circle cx="451.1" cy="768.2" r="4.3" fill="#ec7070" stroke="#3a1c1c" stroke-width="1.1"/>
<line x1="442.3" y1="766.3" x2="459.90000000000003" y2="766.3" stroke="#231f20" stroke-width="1.1"/>
<path d="M451.30,748.80 L451.30,746.25 M451.30,748.80 L453.73,748.01 M451.30,748.80 L452.80,750.86 M451.30,748.80 L449.80,750.86 M451.30,748.80 L448.87,748.01" stroke="#231f20" stroke-width="1.15" stroke-linecap="round" fill="none"/>
<circle cx="491.4" cy="704.6" r="4.3" fill="#b0b0b0" stroke="#2b2b2b" stroke-width="1.1"/>
<circle cx="491.4" cy="703.2" r="4.3" fill="#b0b0b0" stroke="#2b2b2b" stroke-width="1.1"/>
<circle cx="491.4" cy="687.3" r="4.3" fill="#b0b0b0" stroke="#2b2b2b" stroke-width="1.1"/>
<circle cx="491.4" cy="685.7" r="4.3" fill="#b0b0b0" stroke="#2b2b2b" stroke-width="1.1"/>
<line x1="483.09999999999997" y1="696.2" x2="499.7" y2="696.2" stroke="#231f20" stroke-width="1.1"/>
<text x="494.5" y="662.8" font-size="12.8" text-anchor="middle" >n.s.</text>
<circle cx="533.8" cy="765.5" r="4.3" fill="#ec7070" stroke="#3a1c1c" stroke-width="1.1"/>
<circle cx="533.8" cy="767.2" r="4.3" fill="#ec7070" stroke="#3a1c1c" stroke-width="1.1"/>
<circle cx="533.8" cy="768.5" r="4.3" fill="#ec7070" stroke="#3a1c1c" stroke-width="1.1"/>
<circle cx="533.8" cy="770.0" r="4.3" fill="#ec7070" stroke="#3a1c1c" stroke-width="1.1"/>
<line x1="525.1999999999999" y1="768.8" x2="542.4" y2="768.8" stroke="#231f20" stroke-width="1.1"/>
<polygon points="533.90,747.35 534.66,749.30 536.75,749.42 535.14,750.75 535.66,752.78 533.90,751.65 532.14,752.78 532.66,750.75 531.05,749.42 533.14,749.30" fill="#231f20" stroke="#231f20" stroke-width="0.3" stroke-linejoin="round"/>
<circle cx="558.6" cy="711.7" r="4.3" fill="#b0b0b0" stroke="#2b2b2b" stroke-width="1.1"/>
<circle cx="558.6" cy="710.3" r="4.3" fill="#b0b0b0" stroke="#2b2b2b" stroke-width="1.1"/>
<circle cx="558.6" cy="709.2" r="4.3" fill="#b0b0b0" stroke="#2b2b2b" stroke-width="1.1"/>
<circle cx="558.6" cy="700.9" r="4.3" fill="#b0b0b0" stroke="#2b2b2b" stroke-width="1.1"/>
<line x1="549.8000000000001" y1="707.5" x2="567.4" y2="707.5" stroke="#231f20" stroke-width="1.1"/>
<text x="558.9" y="691.7" font-size="12.8" text-anchor="middle" >n.s.</text>
<text transform="translate(407.2,794.5) rotate(31)" font-size="13.5" font-style="italic">W<tspan font-size="9.6" dy="-6" dx="0.8" letter-spacing="0.9">1118</tspan></text>
<text transform="translate(436.5,811) rotate(31)" font-size="12" font-style="italic">(- SINV)</text>
<text transform="translate(447.5,793.8) rotate(31)" font-size="13.5" font-style="italic">W<tspan font-size="9.6" dy="-6" dx="0.8" letter-spacing="0.9">1118</tspan></text>
<text transform="translate(490.5,794.5) rotate(31)" font-size="13" font-style="italic">Ago2<tspan font-size="9.6" dy="-6" dx="0.5" letter-spacing="0.8">414</tspan></text>
<text transform="translate(531.5,792.5) rotate(33)" font-size="12.2" font-style="italic">hml&gt;dsCtr</text>
<text transform="translate(560,791.5) rotate(31)" font-size="12.2" font-style="italic">hml&gt;dsAgo2</text>
</svg>
</body></html>
